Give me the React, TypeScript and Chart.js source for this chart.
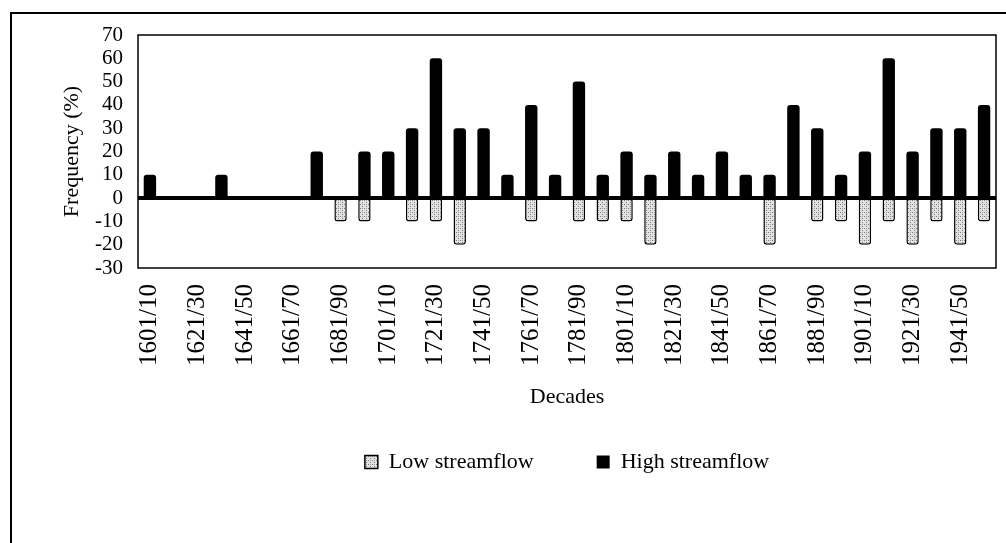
import { useEffect, useRef } from 'react';
import { Chart, registerables } from 'chart.js';

Chart.register(...registerables);

const decades = [
  '1601/10', '1611/20', '1621/30', '1631/40', '1641/50', '1651/60', '1661/70', '1671/80', '1681/90', '1691/00',
  '1701/10', '1711/20', '1721/30', '1731/40', '1741/50', '1751/60', '1761/70', '1771/80', '1781/90', '1791/00',
  '1801/10', '1811/20', '1821/30', '1831/40', '1841/50', '1851/60', '1861/70', '1871/80', '1881/90', '1891/00',
  '1901/10', '1911/20', '1921/30', '1931/40', '1941/50', '1951/60',
];

const highStreamflow = [
  10, 0, 0, 10, 0, 0, 0, 20, 0, 20,
  20, 30, 60, 30, 30, 10, 40, 10, 50, 10,
  20, 10, 20, 10, 20, 10, 10, 40, 30, 10,
  20, 60, 20, 30, 30, 40,
];

const lowStreamflow = [
  0, 0, 0, 0, 0, 0, 0, 0, -10, -10,
  0, -10, -10, -20, 0, 0, -10, 0, -10, -10,
  -10, -20, 0, 0, 0, 0, -20, 0, -10, -10,
  -20, -10, -20, -10, -20, -10,
];

const yTicks = [-30, -20, -10, 0, 10, 20, 30, 40, 50, 60, 70];

const SERIF = '"Liberation Serif", "Times New Roman", serif';

function makePattern(): CanvasPattern | string {
  const c = document.createElement('canvas');
  c.width = 4;
  c.height = 4;
  const g = c.getContext('2d');
  if (!g) return '#cccccc';
  g.fillStyle = '#e2e2e2';
  g.fillRect(0, 0, 4, 4);
  g.fillStyle = '#7a7a7a';
  g.fillRect(0, 0, 1, 1);
  g.fillRect(2, 2, 1, 1);
  g.fillStyle = '#a8a8a8';
  g.fillRect(2, 0, 1, 1);
  const p = g.createPattern(c, 'repeat');
  return p || '#cccccc';
}

const framePlugin = {
  id: 'framePlugin',
  afterDatasetsDraw(chart: any) {
    const { ctx, chartArea: a, scales } = chart;
    const y = scales.y;
    ctx.save();
    ctx.strokeStyle = '#000';
    ctx.lineWidth = 1.5;
    ctx.strokeRect(a.left, a.top, a.right - a.left, a.bottom - a.top);
    const y0 = y.getPixelForValue(0);
    ctx.lineWidth = 4;
    ctx.beginPath();
    ctx.moveTo(a.left, y0);
    ctx.lineTo(a.right, y0);
    ctx.stroke();
    ctx.restore();
  },
  afterDraw(chart: any) {
    const { ctx, width, height } = chart;
    ctx.save();
    ctx.strokeStyle = '#000';
    ctx.lineWidth = 2;
    ctx.beginPath();
    ctx.moveTo(11, height);
    ctx.lineTo(11, 13);
    ctx.lineTo(width, 13);
    ctx.stroke();
    ctx.restore();
  },
};

export default function App() {
  const ref = useRef<HTMLCanvasElement | null>(null);

  useEffect(() => {
    if (!ref.current) return;
    const pattern = makePattern();
    const chart = new Chart(ref.current, {
      type: 'bar',
      data: {
        labels: decades,
        datasets: [
          {
            label: 'Low streamflow',
            data: lowStreamflow,
            backgroundColor: pattern as any,
            borderColor: '#000',
            borderWidth: 1.5,
            borderSkipped: false,
            borderRadius: 3,
            barPercentage: 0.52,
            categoryPercentage: 1,
          },
          {
            label: 'High streamflow',
            data: highStreamflow,
            backgroundColor: '#000',
            borderColor: '#000',
            borderWidth: 0,
            borderRadius: 3,
            barPercentage: 0.52,
            categoryPercentage: 1,
          },
        ],
      },
      options: {
        responsive: false,
        animation: false,
        layout: { padding: { left: 0, right: 10, top: 35, bottom: 60 } },
        plugins: {
          tooltip: { enabled: false },
          legend: {
            position: 'bottom',
            fullSize: false,
            labels: {
              color: '#000',
              font: { family: SERIF, size: 22 },
              boxWidth: 13,
              boxHeight: 13,
              padding: 63,
            },
          },
        },
        scales: {
          x: {
            stacked: true,
            grid: { display: false, drawTicks: false },
            border: { display: false },
            ticks: {
              autoSkip: false,
              minRotation: 90,
              maxRotation: 90,
              padding: 16,
              color: '#000',
              font: { family: SERIF, size: 25 },
              callback: (_v: any, i: number) => (i % 2 === 0 ? decades[i] : ''),
            },
            title: {
              display: true,
              text: 'Decades',
              color: '#000',
              font: { family: SERIF, size: 22 },
              padding: { top: 0, bottom: -22 },
            },
            afterFit: (s: any) => {
              s.height = 120;
              s.paddingLeft = 0;
              s.paddingRight = 0;
            },
          },
          y: {
            stacked: true,
            min: -30,
            max: 70,
            grid: { display: false, drawTicks: false },
            border: { display: false },
            afterBuildTicks: (s: any) => {
              s.ticks = yTicks.map((v) => ({ value: v }));
            },
            ticks: {
              autoSkip: false,
              padding: 15,
              color: '#000',
              font: { family: SERIF, size: 21 },
            },
            title: {
              display: true,
              text: 'Frequency (%)',
              color: '#000',
              font: { family: SERIF, size: 22 },
              padding: { top: 59, bottom: 0 },
            },
            afterFit: (s: any) => {
              s.width = 138;
              s.paddingTop = 0;
              s.paddingBottom = 0;
            },
          },
        },
      },
      plugins: [framePlugin],
    });
    return () => chart.destroy();
  }, []);

  return (
    <div style={{ position: 'fixed', left: 0, top: 0, width: 1006, height: 543, background: '#fff' }}>
      <canvas ref={ref} width={1006} height={543} />
    </div>
  );
}
